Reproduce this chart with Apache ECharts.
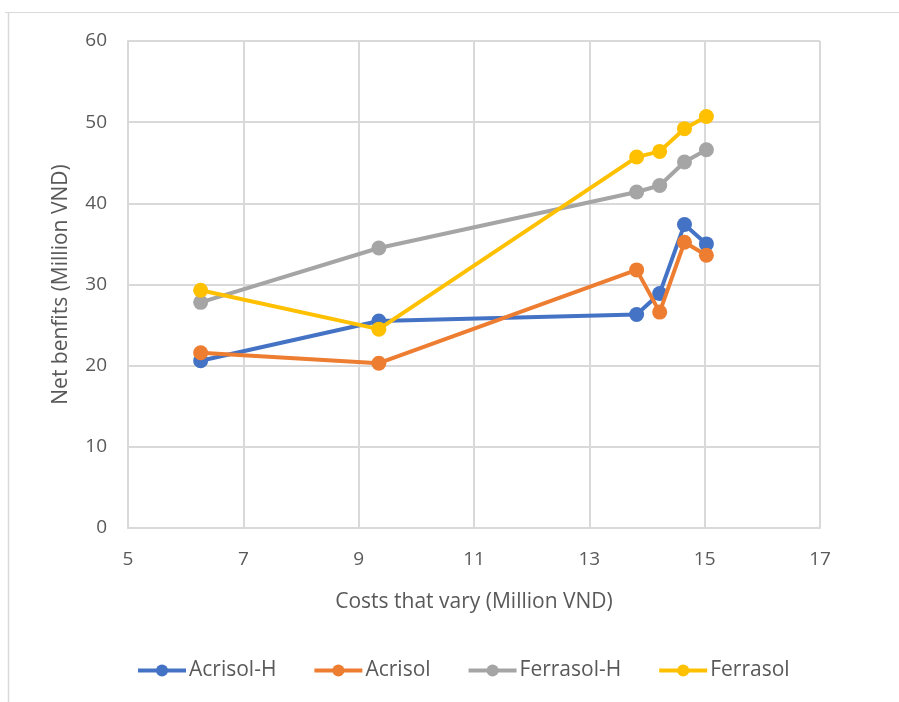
<!DOCTYPE html>
<html>
<head>
<meta charset="utf-8">
<script src="https://cdn.jsdelivr.net/npm/echarts@6/dist/echarts.min.js"></script>
<style>
  html, body { margin: 0; padding: 0; background: #fff; }
  #chart { width: 899px; height: 702px; }
</style>
</head>
<body>
<div id="chart"></div>
<script>
// Costs that vary (Million VND) and net benefits (Million VND) per soil treatment
const acrisolH_x = [6.26, 9.35, 13.82, 14.22, 14.65, 15.03];
const acrisolH_y = [20.6, 25.5, 26.3, 28.9, 37.4, 35.0];

const acrisol_x = [6.26, 9.35, 13.82, 14.22, 14.65, 15.03];
const acrisol_y = [21.6, 20.3, 31.8, 26.6, 35.2, 33.6];

const ferrasolH_x = [6.26, 9.35, 13.82, 14.22, 14.65, 15.03];
const ferrasolH_y = [27.8, 34.5, 41.4, 42.2, 45.1, 46.6];

const ferrasol_x = [6.26, 9.35, 13.82, 14.22, 14.65, 15.03];
const ferrasol_y = [29.3, 24.5, 45.7, 46.4, 49.2, 50.7];

const seriesNames = ['Acrisol-H', 'Acrisol', 'Ferrasol-H', 'Ferrasol'];
const seriesColors = ['#4472C4', '#ED7D31', '#A5A5A5', '#FFC000'];

const xTicks = { min: 5, max: 17, interval: 2 };
const yTicks = { min: 0, max: 60, interval: 10 };

const pairs = (xs, ys) => xs.map((x, i) => [x, ys[i]]);
const allData = [
  pairs(acrisolH_x, acrisolH_y),
  pairs(acrisol_x, acrisol_y),
  pairs(ferrasolH_x, ferrasolH_y),
  pairs(ferrasol_x, ferrasol_y)
];

const font = 'Open Sans, Noto Sans, sans-serif';
const textColor = '#595959';
const gridColor = '#d9d9d9';

const chart = echarts.init(document.getElementById('chart'), null, { renderer: 'canvas' });
chart.setOption({
  backgroundColor: '#fff',
  animation: false,
  color: seriesColors,
  grid: { left: 128, right: 79, top: 41, bottom: 174, containLabel: false },
  legend: {
    data: seriesNames,
    top: 655,
    left: 131,
    itemWidth: 48,
    itemHeight: 15,
    itemGap: 36,
    lineStyle: { width: 4 },
    textStyle: { fontFamily: font, fontSize: 21, color: textColor, padding: [0, 0, 0, -2] }
  },
  xAxis: {
    type: 'value',
    min: xTicks.min, max: xTicks.max, interval: xTicks.interval,
    name: 'Costs that vary (Million VND)',
    nameLocation: 'middle',
    nameGap: 64,
    nameTextStyle: { fontFamily: font, fontSize: 21, color: textColor },
    axisLine: { show: true, lineStyle: { color: gridColor, width: 2 } },
    axisTick: { show: false },
    axisLabel: { fontFamily: font, fontSize: 19, color: textColor, margin: 22 },
    splitLine: { show: true, lineStyle: { color: gridColor, width: 2 } }
  },
  yAxis: {
    type: 'value',
    min: yTicks.min, max: yTicks.max, interval: yTicks.interval,
    name: 'Net benfits (Million VND)',
    nameLocation: 'middle',
    nameGap: 56,
    nameTextStyle: { fontFamily: font, fontSize: 21, color: textColor },
    axisLine: { show: true, lineStyle: { color: gridColor, width: 2 } },
    axisTick: { show: false },
    axisLabel: { fontFamily: font, fontSize: 19, color: textColor, margin: 21 },
    splitLine: { show: true, lineStyle: { color: gridColor, width: 2 } }
  },
  graphic: [
    { type: 'line', shape: { x1: 5, y1: 12.5, x2: 899, y2: 12.5 }, style: { stroke: '#d9d9d9', lineWidth: 1 }, silent: true },
    { type: 'line', shape: { x1: 8.5, y1: 12, x2: 8.5, y2: 702 }, style: { stroke: '#d9d9d9', lineWidth: 1.5 }, silent: true }
  ],
  series: allData.map((d, i) => ({
    name: seriesNames[i],
    type: 'line',
    data: d,
    symbol: 'circle',
    symbolSize: 15,
    lineStyle: { width: 4, color: seriesColors[i] },
    itemStyle: { color: seriesColors[i] },
    z: 2 + i
  }))
});
</script>
</body>
</html>
